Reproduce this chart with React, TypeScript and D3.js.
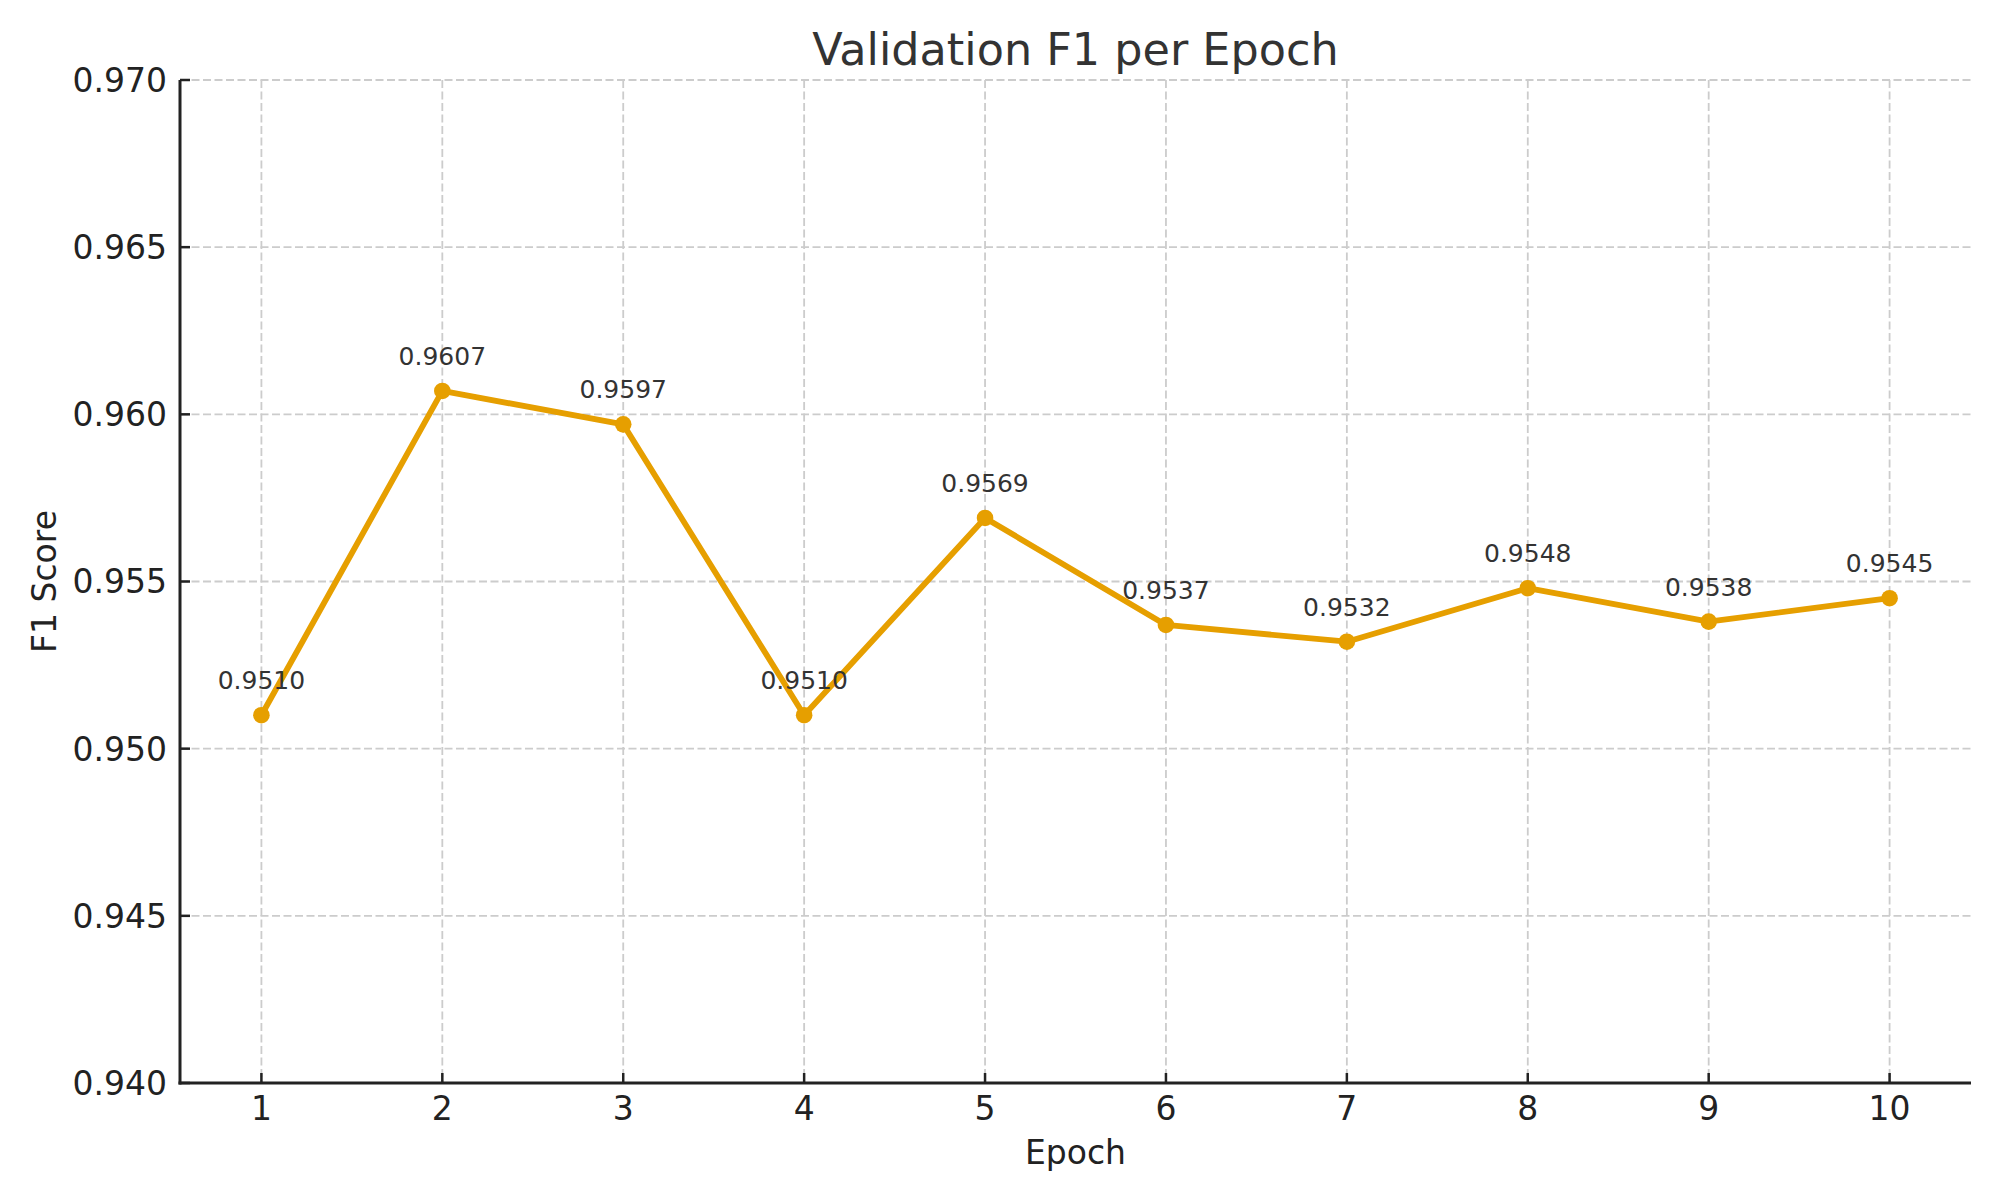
import React from "react";
import * as d3 from "d3";

const epochs = [1, 2, 3, 4, 5, 6, 7, 8, 9, 10];
const f1Scores = [0.951, 0.9607, 0.9597, 0.951, 0.9569, 0.9537, 0.9532, 0.9548, 0.9538, 0.9545];
const yTicks = [0.94, 0.945, 0.95, 0.955, 0.96, 0.965, 0.97];

const W = 2000;
const H = 1200;
const M = { left: 180, right: 1971, top: 80, bottom: 1083 };
const FONT = "DejaVu Sans, sans-serif";
const COLOR = "#E69F00";

export default function App() {
  const x = d3.scaleLinear().domain([0.55, 10.45]).range([M.left, M.right]);
  const y = d3.scaleLinear().domain([0.94, 0.97]).range([M.bottom, M.top]);
  const line = d3
    .line<number>()
    .x((_, i) => x(epochs[i]))
    .y((d) => y(d));

  return (
    <svg
      width={W}
      height={H}
      style={{ position: "absolute", left: 0, top: 0, background: "#fff" }}
      fontFamily={FONT}
    >
      <rect x={0} y={0} width={W} height={H} fill="#fff" />
      {/* grid */}
      {epochs.map((e) => (
        <line
          key={"gx" + e}
          x1={x(e)}
          x2={x(e)}
          y1={M.top}
          y2={M.bottom}
          stroke="#cccccc"
          strokeWidth={1.8}
          strokeDasharray="8,3.5"
        />
      ))}
      {yTicks.map((t) => (
        <line
          key={"gy" + t}
          x1={M.left}
          x2={M.right}
          y1={y(t)}
          y2={y(t)}
          stroke="#cccccc"
          strokeWidth={1.8}
          strokeDasharray="8,3.5"
        />
      ))}
      {/* spines */}
      <line x1={M.left} x2={M.left} y1={M.top} y2={M.bottom + 1.5} stroke="#222" strokeWidth={3} />
      <line x1={M.left - 1.5} x2={M.right} y1={M.bottom} y2={M.bottom} stroke="#222" strokeWidth={3} />
      {/* ticks */}
      {epochs.map((e) => (
        <g key={"tx" + e}>
          <line x1={x(e)} x2={x(e)} y1={M.bottom} y2={M.bottom - 10} stroke="#222" strokeWidth={2.5} />
          <text x={x(e)} y={1120} textAnchor="middle" fontSize={33} fill="#222">
            {e}
          </text>
        </g>
      ))}
      {yTicks.map((t) => (
        <g key={"ty" + t}>
          <line x1={M.left} x2={M.left + 10} y1={y(t)} y2={y(t)} stroke="#222" strokeWidth={2.5} />
          <text x={167} y={y(t)} dy="0.36em" textAnchor="end" fontSize={33} fill="#222">
            {d3.format(".3f")(t)}
          </text>
        </g>
      ))}
      {/* line */}
      <path d={line(f1Scores) || ""} fill="none" stroke={COLOR} strokeWidth={5.8} strokeLinejoin="round" />
      {f1Scores.map((v, i) => (
        <circle key={"p" + i} cx={x(epochs[i])} cy={y(v)} r={8.3} fill={COLOR} />
      ))}
      {f1Scores.map((v, i) => (
        <text
          key={"a" + i}
          x={x(epochs[i])}
          y={y(v) - 26}
          textAnchor="middle"
          fontSize={25}
          fill="#333"
        >
          {d3.format(".4f")(v)}
        </text>
      ))}
      {/* labels */}
      <text x={(M.left + M.right) / 2} y={65} textAnchor="middle" fontSize={44.5} fill="#333">
        Validation F1 per Epoch
      </text>
      <text x={(M.left + M.right) / 2} y={1164} textAnchor="middle" fontSize={33} fill="#222">
        Epoch
      </text>
      <text
        transform={`translate(56, ${(M.top + M.bottom) / 2}) rotate(-90)`}
        textAnchor="middle"
        fontSize={33}
        fill="#222"
      >
        F1 Score
      </text>
    </svg>
  );
}
